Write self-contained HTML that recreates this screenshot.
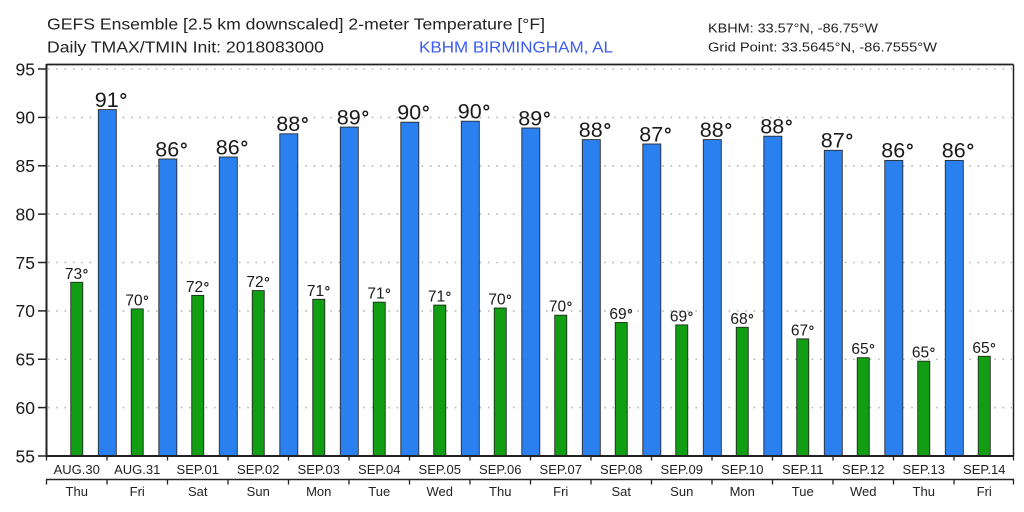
<!DOCTYPE html>
<html>
<head>
<meta charset="utf-8">
<style>
html,body{margin:0;padding:0;background:#fff;}
svg{display:block;}
text{font-family:"Liberation Sans","DejaVu Sans",sans-serif;}
tspan.d{font-family:"DejaVu Sans","Liberation Sans",sans-serif;font-weight:bold;font-size:0.85em;}
</style>
</head>
<body>
<svg width="1024" height="512" viewBox="0 0 1024 512" xmlns="http://www.w3.org/2000/svg">
<rect width="1024" height="512" fill="#fff"/>
<!-- titles -->
<text x="47" y="29.5" font-size="15.5" fill="#222" textLength="498" lengthAdjust="spacingAndGlyphs">GEFS Ensemble [2.5 km downscaled] 2-meter Temperature [°F]</text>
<text x="47" y="52.3" font-size="15.5" fill="#222" textLength="277" lengthAdjust="spacingAndGlyphs">Daily TMAX/TMIN Init: 2018083000</text>
<text x="419" y="52.3" font-size="15.5" fill="#3a5cf5" textLength="194" lengthAdjust="spacingAndGlyphs">KBHM BIRMINGHAM, AL</text>
<text x="708" y="32.3" font-size="12.5" fill="#222" textLength="170" lengthAdjust="spacingAndGlyphs">KBHM: 33.57°N, -86.75°W</text>
<text x="708" y="51.7" font-size="12.5" fill="#222" textLength="229" lengthAdjust="spacingAndGlyphs">Grid Point: 33.5645°N, -86.7555°W</text>

<!-- grid -->
<g stroke="#b8b8b8" stroke-width="1.6" stroke-dasharray="1.6 6.7">
<line x1="48" y1="407.6" x2="1012" y2="407.6"/>
<line x1="48" y1="359.25" x2="1012" y2="359.25"/>
<line x1="48" y1="310.9" x2="1012" y2="310.9"/>
<line x1="48" y1="262.5" x2="1012" y2="262.5"/>
<line x1="48" y1="214.1" x2="1012" y2="214.1"/>
<line x1="48" y1="165.8" x2="1012" y2="165.8"/>
<line x1="48" y1="117.4" x2="1012" y2="117.4"/>
<line x1="48" y1="69" x2="1012" y2="69"/>
</g>

<!-- blue bars -->
<g fill="#2a80ee" stroke="#2b2b2b" stroke-width="0.9">
<rect x="98.3" y="109.6" width="18" height="346.4"/>
<rect x="158.8" y="159.0" width="18" height="297.0"/>
<rect x="219.3" y="157.0" width="18" height="299.0"/>
<rect x="279.8" y="133.8" width="18" height="322.2"/>
<rect x="340.3" y="127.05" width="18" height="328.95"/>
<rect x="400.8" y="122.2" width="18" height="333.8"/>
<rect x="461.3" y="121.2" width="18" height="334.8"/>
<rect x="521.8" y="128.0" width="18" height="328.0"/>
<rect x="582.3" y="139.6" width="18" height="316.4"/>
<rect x="642.8" y="144.0" width="18" height="312.0"/>
<rect x="703.3" y="139.6" width="18" height="316.4"/>
<rect x="763.8" y="136.2" width="18" height="319.8"/>
<rect x="824.3" y="150.3" width="18" height="305.7"/>
<rect x="884.8" y="160.4" width="18" height="295.6"/>
<rect x="945.3" y="160.4" width="18" height="295.6"/>
</g>

<!-- green bars -->
<g fill="#129e13" stroke="#1e2a1e" stroke-width="0.9">
<rect x="70.75" y="282.3" width="12" height="173.7"/>
<rect x="131.25" y="308.9" width="12" height="147.1"/>
<rect x="191.75" y="295.4" width="12" height="160.6"/>
<rect x="252.25" y="290.6" width="12" height="165.4"/>
<rect x="312.75" y="299.3" width="12" height="156.7"/>
<rect x="373.25" y="302.2" width="12" height="153.8"/>
<rect x="433.75" y="305.1" width="12" height="150.9"/>
<rect x="494.25" y="308.0" width="12" height="148.0"/>
<rect x="554.75" y="315.2" width="12" height="140.8"/>
<rect x="615.25" y="322.5" width="12" height="133.5"/>
<rect x="675.75" y="324.9" width="12" height="131.1"/>
<rect x="736.25" y="327.3" width="12" height="128.7"/>
<rect x="796.75" y="338.9" width="12" height="117.1"/>
<rect x="857.25" y="357.7" width="12" height="98.3"/>
<rect x="917.75" y="361.2" width="12" height="94.8"/>
<rect x="978.25" y="356.3" width="12" height="99.7"/>
</g>

<!-- blue labels -->
<g font-size="21.5" fill="#1a1a1a" text-anchor="middle">
<text x="111.3" y="106.9">91<tspan class="d">°</tspan></text>
<text x="171.8" y="156.3">86<tspan class="d">°</tspan></text>
<text x="232.3" y="154.3">86<tspan class="d">°</tspan></text>
<text x="292.8" y="131.1">88<tspan class="d">°</tspan></text>
<text x="353.3" y="124.35">89<tspan class="d">°</tspan></text>
<text x="413.8" y="119.5">90<tspan class="d">°</tspan></text>
<text x="474.3" y="118.5">90<tspan class="d">°</tspan></text>
<text x="534.8" y="125.3">89<tspan class="d">°</tspan></text>
<text x="595.3" y="136.9">88<tspan class="d">°</tspan></text>
<text x="655.8" y="141.3">87<tspan class="d">°</tspan></text>
<text x="716.3" y="136.9">88<tspan class="d">°</tspan></text>
<text x="776.8" y="133.5">88<tspan class="d">°</tspan></text>
<text x="837.3" y="147.6">87<tspan class="d">°</tspan></text>
<text x="897.8" y="157.7">86<tspan class="d">°</tspan></text>
<text x="958.3" y="157.7">86<tspan class="d">°</tspan></text>
</g>

<!-- green labels -->
<g font-size="15.5" fill="#1a1a1a" text-anchor="middle">
<text x="76.75" y="278.8">73<tspan class="d">°</tspan></text>
<text x="137.25" y="305.4">70<tspan class="d">°</tspan></text>
<text x="197.75" y="291.9">72<tspan class="d">°</tspan></text>
<text x="258.25" y="287.1">72<tspan class="d">°</tspan></text>
<text x="318.75" y="295.8">71<tspan class="d">°</tspan></text>
<text x="379.25" y="298.7">71<tspan class="d">°</tspan></text>
<text x="439.75" y="301.6">71<tspan class="d">°</tspan></text>
<text x="500.25" y="304.5">70<tspan class="d">°</tspan></text>
<text x="560.75" y="311.7">70<tspan class="d">°</tspan></text>
<text x="621.25" y="319.0">69<tspan class="d">°</tspan></text>
<text x="681.75" y="321.4">69<tspan class="d">°</tspan></text>
<text x="742.25" y="323.8">68<tspan class="d">°</tspan></text>
<text x="802.75" y="335.4">67<tspan class="d">°</tspan></text>
<text x="863.25" y="354.2">65<tspan class="d">°</tspan></text>
<text x="923.75" y="357.7">65<tspan class="d">°</tspan></text>
<text x="984.25" y="352.8">65<tspan class="d">°</tspan></text>
</g>

<!-- frame -->
<g stroke="#222" fill="none">
<line x1="46.5" y1="64.5" x2="1013.5" y2="64.5" stroke-width="1.8"/>
<line x1="1013.5" y1="64.5" x2="1013.5" y2="456" stroke-width="1.5"/>
<line x1="46.5" y1="64" x2="46.5" y2="456.5" stroke-width="2"/>
<line x1="46" y1="456" x2="1014" y2="456" stroke-width="2"/>
</g>

<!-- y ticks -->
<g stroke="#222" stroke-width="1.5">
<line x1="38" y1="456" x2="46" y2="456"/>
<line x1="38" y1="407.6" x2="46" y2="407.6"/>
<line x1="38" y1="359.25" x2="46" y2="359.25"/>
<line x1="38" y1="310.9" x2="46" y2="310.9"/>
<line x1="38" y1="262.5" x2="46" y2="262.5"/>
<line x1="38" y1="214.1" x2="46" y2="214.1"/>
<line x1="38" y1="165.8" x2="46" y2="165.8"/>
<line x1="38" y1="117.4" x2="46" y2="117.4"/>
<line x1="38" y1="69" x2="46" y2="69"/>
</g>
<g font-size="17.5" fill="#1a1a1a" text-anchor="end">
<text x="35" y="462.3">55</text>
<text x="35" y="413.9">60</text>
<text x="35" y="365.5">65</text>
<text x="35" y="317.2">70</text>
<text x="35" y="268.8">75</text>
<text x="35" y="220.4">80</text>
<text x="35" y="172.1">85</text>
<text x="35" y="123.7">90</text>
<text x="35" y="75.3">95</text>
</g>

<!-- x axis ticks row 1 -->
<g stroke="#222" stroke-width="1.3">
<line x1="46.5" y1="456" x2="46.5" y2="460.5"/>
<line x1="107" y1="456" x2="107" y2="460.5"/>
<line x1="167.5" y1="456" x2="167.5" y2="460.5"/>
<line x1="228" y1="456" x2="228" y2="460.5"/>
<line x1="288.5" y1="456" x2="288.5" y2="460.5"/>
<line x1="349" y1="456" x2="349" y2="460.5"/>
<line x1="409.5" y1="456" x2="409.5" y2="460.5"/>
<line x1="470" y1="456" x2="470" y2="460.5"/>
<line x1="530.5" y1="456" x2="530.5" y2="460.5"/>
<line x1="591" y1="456" x2="591" y2="460.5"/>
<line x1="651.5" y1="456" x2="651.5" y2="460.5"/>
<line x1="712" y1="456" x2="712" y2="460.5"/>
<line x1="772.5" y1="456" x2="772.5" y2="460.5"/>
<line x1="833" y1="456" x2="833" y2="460.5"/>
<line x1="893.5" y1="456" x2="893.5" y2="460.5"/>
<line x1="954" y1="456" x2="954" y2="460.5"/>
<line x1="1013.5" y1="456" x2="1013.5" y2="460.5"/>
</g>
<g font-size="13" fill="#222" text-anchor="middle">
<text x="76.75" y="474">AUG.30</text>
<text x="137.25" y="474">AUG.31</text>
<text x="197.75" y="474">SEP.01</text>
<text x="258.25" y="474">SEP.02</text>
<text x="318.75" y="474">SEP.03</text>
<text x="379.25" y="474">SEP.04</text>
<text x="439.75" y="474">SEP.05</text>
<text x="500.25" y="474">SEP.06</text>
<text x="560.75" y="474">SEP.07</text>
<text x="621.25" y="474">SEP.08</text>
<text x="681.75" y="474">SEP.09</text>
<text x="742.25" y="474">SEP.10</text>
<text x="802.75" y="474">SEP.11</text>
<text x="863.25" y="474">SEP.12</text>
<text x="923.75" y="474">SEP.13</text>
<text x="984.25" y="474">SEP.14</text>
</g>

<!-- x axis row 2 -->
<g stroke="#222" stroke-width="1.3">
<line x1="46" y1="479.5" x2="1014" y2="479.5" stroke-width="1.6"/>
<line x1="46.5" y1="479.5" x2="46.5" y2="484.5"/>
<line x1="107" y1="479.5" x2="107" y2="484.5"/>
<line x1="167.5" y1="479.5" x2="167.5" y2="484.5"/>
<line x1="228" y1="479.5" x2="228" y2="484.5"/>
<line x1="288.5" y1="479.5" x2="288.5" y2="484.5"/>
<line x1="349" y1="479.5" x2="349" y2="484.5"/>
<line x1="409.5" y1="479.5" x2="409.5" y2="484.5"/>
<line x1="470" y1="479.5" x2="470" y2="484.5"/>
<line x1="530.5" y1="479.5" x2="530.5" y2="484.5"/>
<line x1="591" y1="479.5" x2="591" y2="484.5"/>
<line x1="651.5" y1="479.5" x2="651.5" y2="484.5"/>
<line x1="712" y1="479.5" x2="712" y2="484.5"/>
<line x1="772.5" y1="479.5" x2="772.5" y2="484.5"/>
<line x1="833" y1="479.5" x2="833" y2="484.5"/>
<line x1="893.5" y1="479.5" x2="893.5" y2="484.5"/>
<line x1="954" y1="479.5" x2="954" y2="484.5"/>
<line x1="1013.5" y1="479.5" x2="1013.5" y2="484.5"/>
</g>
<g font-size="13" fill="#222" text-anchor="middle">
<text x="76.75" y="496">Thu</text>
<text x="137.25" y="496">Fri</text>
<text x="197.75" y="496">Sat</text>
<text x="258.25" y="496">Sun</text>
<text x="318.75" y="496">Mon</text>
<text x="379.25" y="496">Tue</text>
<text x="439.75" y="496">Wed</text>
<text x="500.25" y="496">Thu</text>
<text x="560.75" y="496">Fri</text>
<text x="621.25" y="496">Sat</text>
<text x="681.75" y="496">Sun</text>
<text x="742.25" y="496">Mon</text>
<text x="802.75" y="496">Tue</text>
<text x="863.25" y="496">Wed</text>
<text x="923.75" y="496">Thu</text>
<text x="984.25" y="496">Fri</text>
</g>
</svg>
</body>
</html>
